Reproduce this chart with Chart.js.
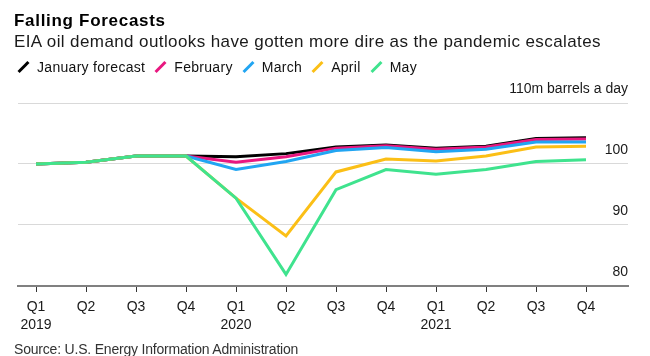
<!DOCTYPE html>
<html><head><meta charset="utf-8">
<script src="https://cdn.jsdelivr.net/npm/chart.js@4/dist/chart.umd.min.js"></script>
<style>
html,body{margin:0;padding:0;background:#fff;width:650px;height:356px;overflow:hidden;font-family:"Liberation Sans",Arial,sans-serif;}
#wrap{position:relative;width:650px;height:356px;}
canvas{position:absolute;left:0;top:0;}
.t{position:absolute;left:14px;white-space:nowrap;color:#000;}
#title{top:11px;font-weight:bold;font-size:17px;line-height:20px;letter-spacing:0.7px;}
#sub{top:32px;font-size:17px;line-height:20px;color:#1a1a1a;letter-spacing:0.4px;}
#legend{top:59px;font-size:14px;line-height:16px;display:flex;color:#111;letter-spacing:0.3px;}
.item{display:flex;align-items:center;margin-right:6px;}
.sw{display:inline-block;width:3px;height:14px;transform:rotate(45deg);margin:0 12px 0 8px;}
#src{top:341px;font-size:14px;line-height:16px;color:#333;letter-spacing:-0.2px;}
</style></head>
<body><div id="wrap">
<canvas id="c" width="650" height="356"></canvas>
<div class="t" id="title">Falling Forecasts</div>
<div class="t" id="sub">EIA oil demand outlooks have gotten more dire as the pandemic escalates</div>
<div class="t" id="legend"></div>
<div class="t" id="src">Source: U.S. Energy Information Administration</div>
</div>
<script>
const categories = ['Q1','Q2','Q3','Q4','Q1','Q2','Q3','Q4','Q1','Q2','Q3','Q4'];
const years = ['2019','','','','2020','','','','2021','','',''];
const seriesNames = ['January forecast','February','March','April','May'];
const seriesColors = ['#000000','#e8177f','#21a5f2','#fbbf16','#3fe38e'];
const january  = [100.0,100.3,101.3,101.3,101.2,101.7,102.8,103.1,102.6,102.9,104.2,104.3];
const february = [100.0,100.3,101.3,101.3,100.3,101.2,102.6,103.0,102.4,102.8,104.0,104.1];
const march    = [100.0,100.3,101.3,101.3, 99.1,100.4,102.2,102.7,102.0,102.4,103.6,103.6];
const april    = [100.0,100.3,101.3,101.3, 94.4, 88.2, 98.7,100.8,100.5,101.3,102.8,102.9];
const may      = [100.0,100.3,101.3,101.3, 94.4, 81.9, 95.8, 99.1, 98.3, 99.1,100.4,100.7];
const yTicks = [80,90,100,110];
const yUnitLabel = '110m barrels a day';

const allSeries = [january,february,march,april,may];

const leg = document.getElementById('legend');
seriesNames.forEach((n,i)=>{
  const it=document.createElement('span');it.className='item';
  const sw=document.createElement('span');sw.className='sw';sw.style.background=seriesColors[i];
  const tx=document.createElement('span');tx.textContent=n;
  it.appendChild(sw);it.appendChild(tx);leg.appendChild(it);
});

const datasets = allSeries.map((s,i)=>({
  label: seriesNames[i],
  data: s.map((v,j)=>({x:j,y:v})),
  borderColor: seriesColors[i],
  backgroundColor: seriesColors[i],
  borderWidth: 3,
  pointRadius: 0,
  tension: 0,
  fill: false,
  order: allSeries.length - i
}));

const FONT = '"Liberation Sans", Arial, sans-serif';

new Chart(document.getElementById('c'), {
  type: 'line',
  data: { datasets },
  options: {
    responsive: false,
    animation: false,
    devicePixelRatio: 1,
    layout: { padding: { left: 18, right: 22, top: 103, bottom: 16 } },
    plugins: { legend: { display: false }, tooltip: { enabled: false }, title: {display:false} },
    scales: {
      x: {
        type: 'linear',
        min: -0.36, max: 11.84,
        afterBuildTicks: (s) => { s.ticks = categories.map((c,i)=>({value:i})); },
        ticks: {
          autoSkip: false, maxRotation: 0, padding: 6,
          color: '#1a1a1a',
          font: { family: FONT, size: 14, lineHeight: 1.286 },
          callback: (v) => years[v] ? [categories[v], years[v]] : categories[v]
        },
        grid: { drawOnChartArea: false, drawTicks: true, tickLength: 6, color: '#333', lineWidth: 1 },
        border: { display: true, color: '#808080', width: 2 }
      },
      y: {
        position: 'right',
        min: 80, max: 110,
        afterBuildTicks: (s) => { s.ticks = yTicks.map(v=>({value:v})); },
        ticks: {
          mirror: true, padding: 0, labelOffset: -13.5,
          color: '#1a1a1a',
          font: { family: FONT, size: 14 },
          callback: (v) => v === 110 ? yUnitLabel : String(v)
        },
        grid: {
          drawTicks: false,
          color: (ctx) => (ctx.tick && ctx.tick.value === 80) ? 'rgba(0,0,0,0)' : '#d9d9d9',
          lineWidth: 1
        },
        border: { display: false }
      }
    }
  }
});
</script>
</body></html>
